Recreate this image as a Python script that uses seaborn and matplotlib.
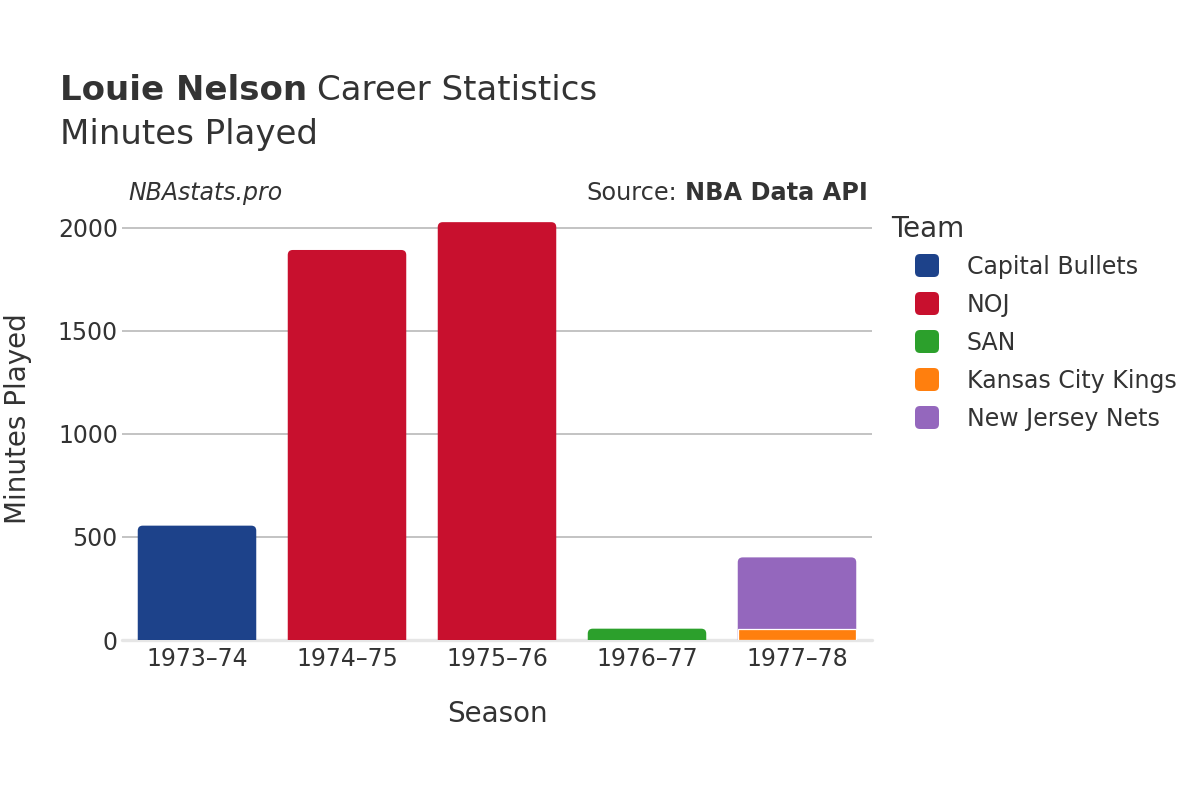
import matplotlib
matplotlib.use("Agg")
import matplotlib.pyplot as plt
from matplotlib.patches import FancyBboxPatch
from matplotlib.transforms import IdentityTransform
import seaborn as sns
import pandas as pd

# ---- data ----
seasons = ["1973–74", "1974–75", "1975–76", "1976–77", "1977–78"]
teams = ["Capital Bullets", "NOJ", "SAN", "Kansas City Kings", "New Jersey Nets"]
team_colors = ["#1d428a", "#c8102e", "#2ca02c", "#ff7f0e", "#9467bd"]
row_season = ["1973–74", "1974–75", "1975–76", "1976–77", "1977–78", "1977–78"]
row_team = ["Capital Bullets", "NOJ", "NOJ", "SAN", "Kansas City Kings", "New Jersey Nets"]
row_minutes = [555, 1893, 2028, 55, 55, 346]
y_ticks = [0, 500, 1000, 1500, 2000]

TXT = "#333333"
W, H = 1200, 800

sns.set_theme(style="white")
plt.rcParams["font.family"] = ["DejaVu Sans"]

df = pd.DataFrame({"season": row_season, "team": row_team, "minutes": row_minutes})
df["team_rank"] = df["team"].map({t: i for i, t in enumerate(teams)})
df = df.sort_values(["season", "team_rank"])
df["cum"] = df.groupby("season")["minutes"].cumsum()
df["is_top"] = df.groupby("season")["cum"].transform("max") == df["cum"]

fig = plt.figure(figsize=(12, 8), dpi=100)
ax = fig.add_axes([122 / W, 1 - 640 / H, 750 / W, 430 / H])
YTOP = 2087
ax.set_ylim(0, YTOP)

px_per_x = 150.0
px_per_y = 430.0 / YTOP
radius_px = 5.0
rx = radius_px / px_per_x
ry = radius_px / px_per_y

color_map = dict(zip(teams, team_colors))
BAR_W = 0.79

# draw upper stack parts first (cumulative totals), lower parts on top
for team in reversed(teams):
    sub = df[df["team"] == team]
    if sub.empty:
        continue
    n0 = len(ax.patches)
    sns.barplot(data=sub, x="season", y="cum", order=seasons, color=color_map[team],
                saturation=1, width=BAR_W, errorbar=None, ax=ax, zorder=2)
    new = list(ax.patches[n0:])
    tops = dict(zip(sub["season"], sub["is_top"]))
    for p in new:
        h = p.get_height()
        if h is None or h != h or h <= 0:
            continue
        xc = p.get_x() + p.get_width() / 2
        idx = int(round(xc))
        s = seasons[idx]
        if tops.get(s, True):
            fb = FancyBboxPatch((p.get_x(), p.get_y() - ry), p.get_width(), h + ry,
                                boxstyle=f"round,pad=0,rounding_size={rx}",
                                mutation_aspect=ry / rx,
                                facecolor=p.get_facecolor(), edgecolor="none",
                                zorder=2)
            p.remove()
            ax.add_patch(fb)
        else:
            p.set_edgecolor("white")
            p.set_linewidth(0.9)

ax.set_xlim(-0.5, len(seasons) - 0.5)
ax.set_yticks(y_ticks)
ax.set_yticklabels([str(v) for v in y_ticks])
ax.set_xlabel("")
ax.set_ylabel("")
ax.yaxis.grid(True, color="#b3b3b3", linewidth=1.1)
ax.xaxis.grid(False)
ax.set_axisbelow(True)
for sp in ax.spines.values():
    sp.set_visible(False)
ax.axhline(0, color="#e6e6e6", linewidth=2.4, zorder=1, clip_on=False)
ax.tick_params(axis="both", length=0, labelsize=17, labelcolor=TXT)
ax.tick_params(axis="y", pad=3)
ax.tick_params(axis="x", pad=5)


def fx(px):
    return px / W


def fy(py):
    return 1 - py / H


fig.canvas.draw()
r = fig.canvas.get_renderer()

# title
t1 = fig.text(fx(60), fy(100), "Louie Nelson", fontsize=24.5, weight="bold", color=TXT, va="baseline")
bb = t1.get_window_extent(r)
fig.text((bb.x1 + 10) / W, fy(100), "Career Statistics", fontsize=24.5, color=TXT, va="baseline")
fig.text(fx(60), fy(144), "Minutes Played", fontsize=24.5, color=TXT, va="baseline")

# annotations
fig.text(fx(128), fy(200), "NBAstats.pro", fontsize=17, style="italic", color=TXT, va="baseline")
s2 = fig.text(fx(868), fy(200), "NBA Data API", fontsize=17.3, weight="bold", color=TXT,
              va="baseline", ha="right")
bb2 = s2.get_window_extent(r)
fig.text((bb2.x0 - 8) / W, fy(200), "Source:", fontsize=17.3, color=TXT, va="baseline", ha="right")

# axis titles
fig.text(fx(497), fy(722), "Season", fontsize=20, color=TXT, ha="center", va="baseline")
fig.text(fx(18), fy(419), "Minutes Played", fontsize=20, color=TXT, ha="center", va="center",
         rotation=90)

# legend
fig.text(fx(891), fy(237), "Team", fontsize=20, color=TXT, va="baseline")
for i, (team, col) in enumerate(zip(teams, team_colors)):
    c = 265.5 + 38 * i
    sw = FancyBboxPatch((915, H - (c + 11.5)), 24, 23,
                        boxstyle="round,pad=0,rounding_size=5",
                        facecolor=col, edgecolor="none", transform=IdentityTransform())
    fig.add_artist(sw)
    fig.text(fx(967), fy(c + 8.7), team, fontsize=17, color=TXT, va="baseline")

fig.savefig("out.png", dpi=100)
